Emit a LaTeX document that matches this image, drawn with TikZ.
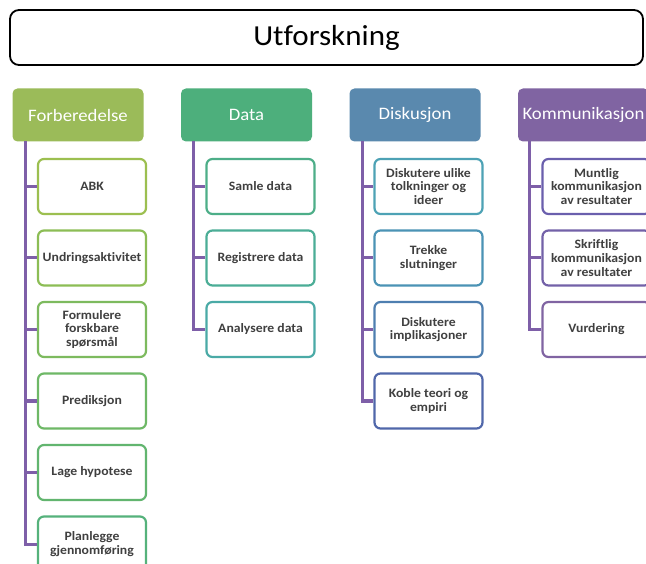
\documentclass[tikz,border=0pt]{standalone}
\usepackage{fontspec}
\setmainfont[Ligatures=NoCommon, FakeStretch=1.07]{Carlito}
\definecolor{txtgray}{HTML}{404040}
\definecolor{conncol}{HTML}{7E5FA8}
\definecolor{hA}{HTML}{9BBB59}
\definecolor{hB}{HTML}{4DAF7C}
\definecolor{hC}{HTML}{5A89AE}
\definecolor{hD}{HTML}{8064A2}
\definecolor{a1}{HTML}{9CBF50}
\definecolor{a2}{HTML}{8CBD55}
\definecolor{a3}{HTML}{7DBA5E}
\definecolor{a4}{HTML}{6EB866}
\definecolor{a5}{HTML}{62B56F}
\definecolor{a6}{HTML}{55B27B}
\definecolor{b1}{HTML}{4DAE88}
\definecolor{b2}{HTML}{4BAD96}
\definecolor{b3}{HTML}{4AAAA6}
\definecolor{d1}{HTML}{4DA2B5}
\definecolor{d2}{HTML}{4B93B5}
\definecolor{d3}{HTML}{4E7FB0}
\definecolor{d4}{HTML}{5067AA}
\definecolor{k1}{HTML}{6A5FAD}
\definecolor{k2}{HTML}{7361A8}
\definecolor{k3}{HTML}{8064A2}
\begin{document}
\begin{tikzpicture}[x=1pt,y=-1pt,
  titlebox/.style={draw=black, line width=1.8pt, rounded corners=9pt, fill=white,
    minimum width=633pt, minimum height=55pt, inner sep=0pt,
    font=\fontsize{29}{33}\selectfont},
  headbox/.style={rounded corners=5pt, minimum width=131pt, minimum height=53pt,
    inner sep=0pt, text=white, font=\fontsize{17.5}{20}\selectfont},
  itembox/.style={rounded corners=6pt, line width=2.2pt, fill=white,
    minimum width=108pt, minimum height=55pt, inner sep=1pt, align=center,
    text=txtgray, font=\bfseries\fontsize{12.8}{13.6}\selectfont},
  conn/.style={draw=conncol, line width=3pt}]
\useasboundingbox (0,0) rectangle (646,564);
\clip (0,0) rectangle (646,564);
\fill[white] (0,0) rectangle (646,564);

\node[titlebox] (title) at (326.5,37.5) {Utforskning};

\node[headbox, fill=hA] (hA) at (78,115) {Forberedelse};
\node[headbox, fill=hB] (hB) at (246.5,115) {Data};
\node[headbox, fill=hC] (hC) at (415,115) {Diskusjon};
\node[headbox, fill=hD] (hD) at (583.5,115) {Kommunikasjon};

% Forberedelse
\node[itembox, draw=a1] (a1) at (92,186.5) {ABK};
\node[itembox, draw=a2] (a2) at (92,258) {Undringsaktivitet};
\node[itembox, draw=a3] (a3) at (92,329.5) {Formulere\\forskbare\\spørsmål};
\node[itembox, draw=a4] (a4) at (92,401) {Prediksjon};
\node[itembox, draw=a5] (a5) at (92,472.5) {Lage hypotese};
\node[itembox, draw=a6] (a6) at (92,544) {Planlegge\\gjennomføring};
% Data
\node[itembox, draw=b1] (b1) at (260.5,186.5) {Samle data};
\node[itembox, draw=b2] (b2) at (260.5,258) {Registrere data};
\node[itembox, draw=b3] (b3) at (260.5,329.5) {Analysere data};
% Diskusjon
\node[itembox, draw=d1] (d1) at (428.5,186.5) {Diskutere ulike\\tolkninger og\\ideer};
\node[itembox, draw=d2] (d2) at (428.5,258) {Trekke\\slutninger};
\node[itembox, draw=d3] (d3) at (428.5,329.5) {Diskutere\\implikasjoner};
\node[itembox, draw=d4] (d4) at (428.5,401) {Koble teori og\\empiri};
% Kommunikasjon
\node[itembox, draw=k1] (k1) at (596.5,186.5) {Muntlig\\kommunikasjon\\av resultater};
\node[itembox, draw=k2] (k2) at (596.5,258) {Skriftlig\\kommunikasjon\\av resultater};
\node[itembox, draw=k3] (k3) at (596.5,329.5) {Vurdering};

\coordinate (lA) at (25,141.5);
\coordinate (lB) at (193,141.5);
\coordinate (lC) at (362,141.5);
\coordinate (lD) at (529,141.5);

\draw[conn] (lA) |- (a6.west);
\foreach \n in {a1,a2,a3,a4,a5} \draw[conn] (lA |- \n.west) -- (\n.west);
\draw[conn] (lB) |- (b3.west);
\foreach \n in {b1,b2} \draw[conn] (lB |- \n.west) -- (\n.west);
\draw[conn] (lC) |- (d4.west);
\foreach \n in {d1,d2,d3} \draw[conn] (lC |- \n.west) -- (\n.west);
\draw[conn] (lD) |- (k3.west);
\foreach \n in {k1,k2} \draw[conn] (lD |- \n.west) -- (\n.west);
\end{tikzpicture}
\end{document}
